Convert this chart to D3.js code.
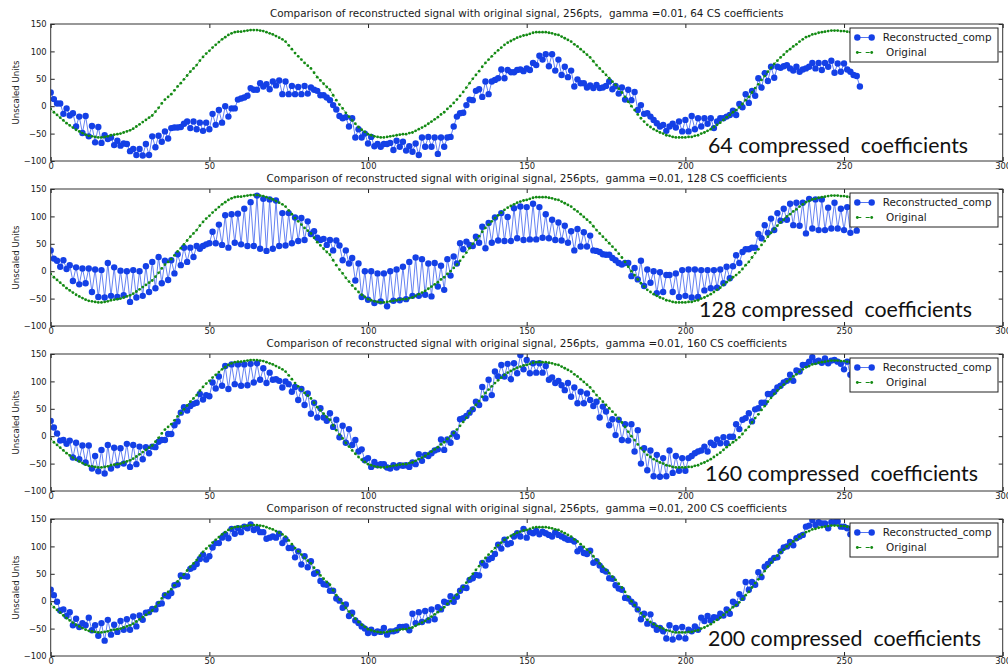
<!DOCTYPE html>
<html>
<head>
<meta charset="utf-8">
<script src="https://cdn.jsdelivr.net/npm/d3@7"></script>
<style>
  body { margin: 0; background: #fff; }
  svg text { font-family: "DejaVu Sans", sans-serif; fill: #1a1a1a; }
  .tick line { stroke: #222; }
</style>
</head>
<body>
<div id="chart"></div>
<script>
// original signal, 256 samples (same in every panel)
var original = [
  -5,-11,-16,-21,-26,-31,-35,-39,-43,-46,-49,-52,-54,-55,-56,-57,
  -57,-56,-55,-53,-52,-51,-50,-48,-46,-44,-41,-37,-33,-29,-25,-21,
  -17,-10,-3,5,12,17,22,29,36,42,49,56,63,69,75,83,
  90,96,101,107,112,117,122,126,130,133,135,136,136,137,138,139,
  139,139,138,137,135,133,131,128,125,122,118,111,104,97,91,85,
  79,74,69,61,53,47,41,35,30,20,11,3,-4,-12,-19,-26,
  -32,-38,-43,-47,-51,-53,-55,-56,-57,-57,-56,-55,-54,-53,-52,-51,
  -51,-49,-48,-45,-42,-39,-36,-32,-28,-24,-20,-15,-11,-5,0,6,
  12,19,26,34,42,50,57,64,72,79,85,91,97,102,107,112,
  116,119,122,125,127,129,130,132,134,135,135,135,135,134,133,131,
  130,127,124,121,118,113,109,104,99,94,89,82,75,69,63,57,
  51,45,39,32,25,17,8,0,-7,-15,-22,-28,-34,-38,-42,-45,
  -48,-50,-53,-54,-56,-57,-57,-57,-57,-56,-56,-54,-53,-50,-48,-45,
  -42,-38,-34,-30,-25,-20,-16,-11,-7,-2,4,11,17,25,33,40,
  48,55,63,70,77,83,89,94,100,104,109,113,118,122,126,128,
  131,132,134,135,136,137,138,138,138,137,137,136,135,134,133,131
];

var rec64 = [
  25,13,5,5,-14,-4,-17,-13,-37,-19,-49,-18,-55,-36,-66,-38,
  -67,-53,-60,-57,-71,-63,-72,-68,-69,-82,-78,-89,-78,-90,-69,-89,
  -55,-75,-54,-65,-46,-59,-40,-39,-39,-38,-32,-28,-40,-28,-42,-30,
  -45,-30,-42,-14,-34,-7,-30,0,-19,-4,-4,12,14,16,19,33,
  30,30,42,36,40,31,45,38,47,22,45,22,37,22,35,22,
  37,23,34,30,28,20,20,16,11,2,-6,-18,-22,-20,-37,-22,
  -57,-42,-57,-50,-68,-56,-73,-69,-74,-69,-69,-67,-80,-63,-74,-65,
  -81,-73,-83,-68,-89,-57,-74,-56,-74,-57,-87,-57,-74,-57,-56,-37,
  -19,-13,-12,2,12,11,28,31,17,45,22,45,48,51,67,51,
  66,62,62,66,67,64,69,66,79,75,92,85,95,73,95,65,
  85,57,72,53,65,36,49,42,42,34,38,33,39,33,34,37,
  45,31,37,23,34,12,30,11,26,-7,2,-14,-13,-19,-25,-31,
  -37,-34,-45,-37,-32,-39,-28,-46,-25,-46,-18,-42,-22,-37,-22,-32,
  -22,-40,-28,-22,-22,-19,-16,-8,-16,4,-2,22,6,28,19,51,
  34,60,46,72,52,72,70,73,75,69,65,72,63,67,69,72,
  79,69,79,66,79,72,83,61,78,63,78,67,63,57,55,36
];

var rec128 = [
  38,23,19,8,20,4,11,-18,7,-24,5,-22,5,-38,3,-47,
  2,-48,15,-45,7,-47,1,-44,0,-56,2,-48,0,-45,9,-38,
  17,-31,26,-22,19,-16,20,-4,31,11,43,17,43,26,46,41,
  46,49,51,72,51,85,48,102,43,104,52,105,49,114,46,126,
  46,138,41,132,37,131,41,129,46,106,47,106,51,98,55,97,
  57,91,68,73,61,57,59,48,57,38,56,47,20,38,14,24,
  -17,14,-47,0,-52,0,-58,-4,-55,-4,-64,0,-54,3,-53,8,
  -51,17,-45,25,-45,22,-43,14,-46,15,-28,10,-34,22,-8,27,
  14,51,40,54,48,46,63,52,81,42,88,52,98,56,106,55,
  99,55,115,60,118,57,117,58,123,58,117,61,104,60,94,57,
  89,56,83,52,73,38,77,45,71,45,65,38,37,35,31,30,
  30,24,20,15,12,15,15,-9,6,-15,19,-27,3,-21,0,-40,
  -2,-38,-7,-7,-38,-4,-47,2,-45,3,-48,3,-47,2,-35,2,
  -31,2,-30,3,-22,8,-13,9,29,15,35,40,40,43,43,68,
  60,84,70,96,75,106,92,114,94,123,84,125,83,125,69,132,
  78,131,75,131,75,116,78,125,78,114,75,117,70,108,74,100
];

var rec160 = [
  28,16,5,-8,-7,-14,-8,-39,-12,-42,-17,-48,-17,-59,-36,-64,
  -25,-68,-16,-59,-21,-53,-22,-50,-14,-56,-16,-51,-19,-42,-20,-31,
  -19,-20,-10,-7,-7,4,4,20,27,43,53,47,55,59,61,77,
  67,75,73,98,87,109,92,128,86,131,95,131,92,131,93,132,
  98,133,103,124,97,116,103,104,101,89,100,95,81,90,66,86,
  57,78,41,61,34,51,34,28,42,17,30,-2,19,-12,13,-16,
  -7,-28,-24,-44,-40,-56,-47,-53,-51,-51,-57,-59,-53,-57,-53,-54,
  -53,-56,-48,-51,-33,-45,-34,-36,-31,-26,-24,-6,-25,-6,-12,5,
  -1,31,33,37,43,49,63,57,90,69,103,75,118,109,130,109,
  132,104,133,115,148,122,139,115,133,116,133,116,128,103,107,97,
  101,93,84,97,72,89,60,81,60,78,66,55,63,34,54,45,
  20,31,2,30,-7,22,-8,22,-28,11,-50,-22,-62,-26,-73,-34,
  -74,-40,-73,-26,-67,-36,-63,-40,-63,-40,-36,-31,-28,-26,-19,-28,
  -12,-16,-6,-13,-2,-13,-1,-1,22,13,30,33,42,27,49,51,
  61,61,77,77,81,89,92,98,101,112,101,120,118,130,130,136,
  144,136,138,134,142,133,138,139,136,132,122,136,112,125,130,128
];

var rec200 = [
  21,11,-1,-17,-15,-27,-20,-44,-32,-47,-40,-44,-30,-53,-44,-63,
  -40,-72,-34,-61,-43,-56,-36,-52,-33,-52,-28,-46,-26,-34,-21,-20,
  -14,-15,-5,-4,11,9,15,29,31,47,46,45,59,62,68,77,
  85,76,82,98,106,106,116,122,115,132,123,133,126,136,133,140,
  130,133,126,126,114,116,118,116,123,106,113,97,97,80,91,67,
  82,62,73,50,53,37,31,30,19,19,5,1,-12,-6,-27,-21,
  -35,-40,-46,-50,-58,-52,-58,-55,-56,-49,-61,-55,-55,-53,-47,-47,
  -46,-53,-23,-40,-20,-38,-18,-35,-15,-33,-11,-15,-1,-3,9,-1,
  8,19,25,24,39,42,48,47,70,65,76,79,86,103,96,112,
  104,106,118,124,118,132,116,126,124,128,122,127,124,121,118,126,
  121,118,115,112,112,109,91,96,88,86,92,70,73,65,57,54,
  42,41,29,23,21,6,5,-1,-6,-15,-33,-23,-41,-24,-44,-52,
  -49,-55,-68,-44,-70,-49,-66,-47,-68,-52,-55,-46,-52,-30,-36,-27,
  -35,-29,-30,-23,-26,-15,-23,-1,-5,13,6,35,21,35,30,53,
  44,63,68,74,79,80,91,98,100,108,102,115,118,121,136,138,
  148,139,144,142,142,133,144,144,146,136,136,133,122,130,134,132
];

var reconstructed = [rec64, rec128, rec160, rec200];
var coeffCounts = [64, 128, 160, 200];
var xTicks = [0, 50, 100, 150, 200, 250, 300];
var yTicks = [-100, -50, 0, 50, 100, 150];
var legendLabels = ['Reconstructed_comp', ' Original'];

var width = 1008, height = 669;
var panelTop = [24, 189, 354, 519],
    panelH = 137;
// big annotation text laid over each panel (x, baseline offset, width)
var note = [
  {x: 708, dy: 129, w: 260},
  {x: 699, dy: 128, w: 273},
  {x: 705, dy: 127, w: 273},
  {x: 708, dy: 127, w: 273}
];

var blue = '#1440e6', blueLine = '#5474f0', green = '#138a13';

var svg = d3.select('#chart').append('svg')
    .attr('width', width)
    .attr('height', height)
    .style('background', '#fff');

var x = d3.scaleLinear().domain([0, 300]).range([50.7, 1002.7]);

reconstructed.forEach(function(rec, p) {
  var top = panelTop[p];
  var y = d3.scaleLinear().domain([-100, 150]).range([top + panelH, top]);
  var g = svg.append('g');

  g.append('clipPath').attr('id', 'clip' + p)
    .append('rect')
    .attr('x', x(0)).attr('y', top)
    .attr('width', x(300) - x(0)).attr('height', panelH);

  var plot = g.append('g').attr('clip-path', 'url(#clip' + p + ')');

  var line = d3.line()
      .x(function(d, i) { return x(i); })
      .y(function(d) { return y(d); });

  plot.append('path')
      .datum(rec)
      .attr('d', line)
      .attr('fill', 'none')
      .attr('stroke', blueLine)
      .attr('stroke-width', 0.9);

  plot.selectAll('circle.rec')
    .data(rec)
    .enter().append('circle')
      .attr('class', 'rec')
      .attr('cx', function(d, i) { return x(i); })
      .attr('cy', function(d) { return y(d); })
      .attr('r', 3.2)
      .attr('fill', blue);

  plot.append('path')
      .datum(original)
      .attr('d', line)
      .attr('fill', 'none')
      .attr('stroke', green)
      .attr('stroke-width', 0.8)
      .attr('stroke-dasharray', '2.5,2')
      .attr('opacity', 0.8);

  plot.selectAll('circle.orig')
    .data(original)
    .enter().append('circle')
      .attr('class', 'orig')
      .attr('cx', function(d, i) { return x(i); })
      .attr('cy', function(d) { return y(d); })
      .attr('r', 1.4)
      .attr('fill', green);

  // axes, ticks point inward on all four sides
  g.append('g')
      .attr('transform', 'translate(' + x(0) + ',0)')
      .call(d3.axisLeft(y).tickValues(yTicks).tickSize(-4).tickPadding(4))
      .call(function(a) { a.select('.domain').remove(); a.selectAll('text').style('font-size', '8.4px'); });
  g.append('g')
      .attr('transform', 'translate(' + x(300) + ',0)')
      .call(d3.axisRight(y).tickValues(yTicks).tickSize(-4).tickFormat(''))
      .call(function(a) { a.select('.domain').remove(); });
  g.append('g')
      .attr('transform', 'translate(0,' + (top + panelH) + ')')
      .call(d3.axisBottom(x).tickValues(xTicks).tickSize(-4).tickPadding(2))
      .call(function(a) { a.select('.domain').remove(); a.selectAll('text').style('font-size', '8.4px'); });
  g.append('g')
      .attr('transform', 'translate(0,' + top + ')')
      .call(d3.axisTop(x).tickValues(xTicks).tickSize(-4).tickFormat(''))
      .call(function(a) { a.select('.domain').remove(); });

  g.append('rect')
      .attr('x', x(0)).attr('y', top)
      .attr('width', x(300) - x(0)).attr('height', panelH)
      .attr('fill', 'none')
      .attr('stroke', '#333')
      .attr('stroke-width', 1);

  g.append('text')
      .attr('transform', 'translate(16,' + (top + panelH / 2) + ') rotate(-90)')
      .attr('text-anchor', 'middle')
      .attr('dy', '0.35em')
      .style('font-size', '8.6px')
      .text('Unscaled Units');

  g.append('text')
      .attr('x', (x(0) + x(300)) / 2)
      .attr('y', top - 7)
      .attr('text-anchor', 'middle')
      .style('font-size', '10.4px')
      .style('white-space', 'pre')
      .text('Comparison of reconstructed signal with original signal, 256pts,  gamma =0.01, ' + coeffCounts[p] + ' CS coefficients');

  // legend
  var lg = g.append('g').attr('transform', 'translate(850,' + (top + 4) + ')');
  lg.append('rect')
      .attr('width', 148).attr('height', 34)
      .attr('fill', '#fff')
      .attr('stroke', '#222')
      .attr('stroke-width', 1);
  lg.append('line')
      .attr('x1', 7.3).attr('x2', 21.7).attr('y1', 9.5).attr('y2', 9.5)
      .attr('stroke', blueLine).attr('stroke-width', 1);
  lg.selectAll('circle.lb').data([7.3, 21.7]).enter().append('circle')
      .attr('cx', function(d) { return d; }).attr('cy', 9.5).attr('r', 3.2).attr('fill', blue);
  lg.append('line')
      .attr('x1', 7.3).attr('x2', 21.7).attr('y1', 24.5).attr('y2', 24.5)
      .attr('stroke', green).attr('stroke-width', 1).attr('stroke-dasharray', '4,4.4');
  lg.selectAll('circle.lg').data([7.3, 21.7]).enter().append('circle')
      .attr('cx', function(d) { return d; }).attr('cy', 24.5).attr('r', 1.4).attr('fill', green);
  lg.selectAll('text.lt').data(legendLabels).enter().append('text')
      .attr('x', 32.7)
      .attr('y', function(d, i) { return 9.5 + i * 15; })
      .attr('dy', '0.36em')
      .style('font-size', '10.4px')
      .style('white-space', 'pre')
      .text(function(d) { return d; });

  // annotation
  g.append('text')
      .attr('x', note[p].x)
      .attr('y', top + note[p].dy)
      .attr('textLength', note[p].w)
      .attr('lengthAdjust', 'spacingAndGlyphs')
      .style('font-family', 'Lato, "Open Sans", sans-serif')
      .style('font-size', '22px')
      .style('white-space', 'pre')
      .style('fill', '#111')
      .text(coeffCounts[p] + ' compressed  coefficients');
});
</script>
</body>
</html>
